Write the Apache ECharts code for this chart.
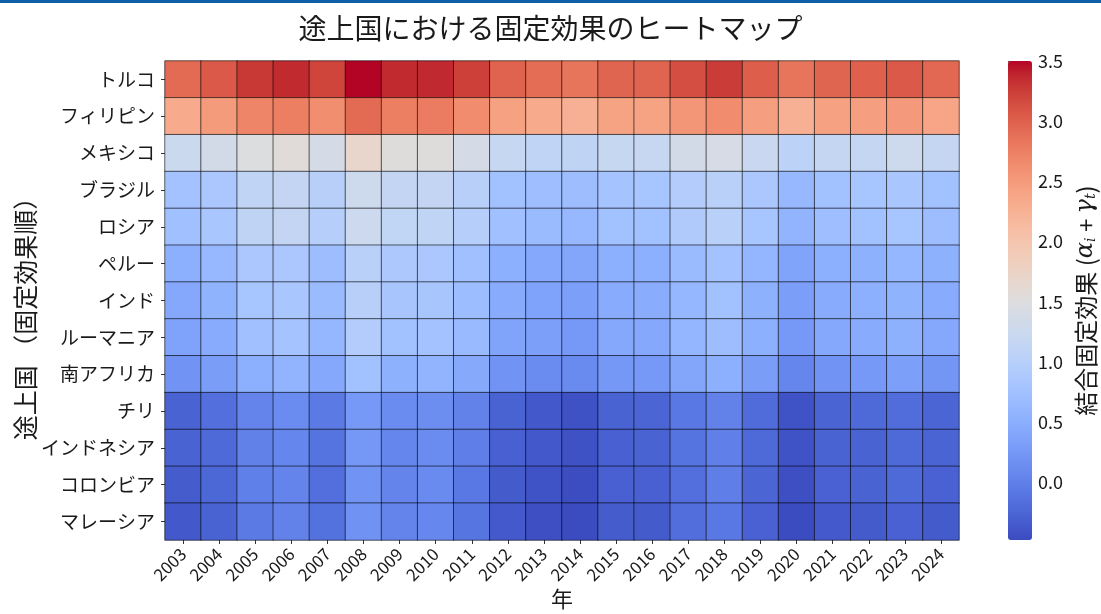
<!DOCTYPE html>
<html>
<head>
<meta charset="utf-8">
<script src="https://cdn.jsdelivr.net/npm/echarts@6/dist/echarts.min.js"></script>
<style>
  html, body { margin: 0; padding: 0; background: #ffffff; }
  #chart { width: 1101px; height: 614px; }
</style>
</head>
<body>
<div id="chart"></div>
<script>
// Years on the horizontal axis
const years = ['2003','2004','2005','2006','2007','2008','2009','2010','2011','2012','2013',
               '2014','2015','2016','2017','2018','2019','2020','2021','2022','2023','2024'];

// Countries, ordered by fixed effect (top to bottom)
const countries = ['トルコ','フィリピン','メキシコ','ブラジル','ロシア','ペルー','インド',
                   'ルーマニア','南アフリカ','チリ','インドネシア','コロンビア','マレーシア'];

// Combined fixed effect (alpha_i + gamma_t) per country and year
const turkey      = [2.92, 3.06, 3.28, 3.36, 3.20, 3.50, 3.36, 3.37, 3.24, 2.98, 2.90, 2.84, 2.96, 2.96, 3.14, 3.26, 3.02, 2.84, 2.96, 3.00, 3.06, 2.94];
const philippines = [2.33, 2.49, 2.70, 2.76, 2.62, 2.92, 2.76, 2.78, 2.64, 2.43, 2.33, 2.27, 2.41, 2.41, 2.54, 2.64, 2.45, 2.27, 2.43, 2.45, 2.51, 2.39];
const mexico      = [1.25, 1.35, 1.49, 1.55, 1.39, 1.69, 1.53, 1.53, 1.39, 1.19, 1.11, 1.10, 1.19, 1.20, 1.35, 1.40, 1.22, 1.07, 1.17, 1.18, 1.28, 1.18];
const brazil      = [0.77, 0.85, 1.11, 1.15, 1.01, 1.27, 1.15, 1.15, 1.00, 0.75, 0.71, 0.70, 0.79, 0.81, 0.95, 1.03, 0.85, 0.63, 0.75, 0.81, 0.83, 0.75];
const russia      = [0.73, 0.83, 1.10, 1.15, 0.98, 1.26, 1.13, 1.11, 0.98, 0.73, 0.67, 0.63, 0.75, 0.75, 0.91, 1.02, 0.81, 0.57, 0.71, 0.75, 0.81, 0.70];
const peru        = [0.50, 0.63, 0.85, 0.85, 0.70, 1.03, 0.87, 0.85, 0.73, 0.50, 0.42, 0.40, 0.52, 0.52, 0.67, 0.77, 0.59, 0.38, 0.51, 0.53, 0.61, 0.53];
const india       = [0.42, 0.55, 0.81, 0.83, 0.67, 1.00, 0.82, 0.82, 0.69, 0.46, 0.36, 0.32, 0.46, 0.47, 0.61, 0.75, 0.53, 0.31, 0.46, 0.50, 0.55, 0.46];
const romania     = [0.36, 0.46, 0.73, 0.79, 0.61, 0.95, 0.75, 0.76, 0.65, 0.38, 0.32, 0.25, 0.42, 0.43, 0.59, 0.70, 0.50, 0.26, 0.43, 0.46, 0.53, 0.42];
const southAfrica = [0.20, 0.30, 0.50, 0.57, 0.42, 0.75, 0.53, 0.57, 0.44, 0.20, 0.12, 0.10, 0.24, 0.25, 0.40, 0.51, 0.30, 0.06, 0.20, 0.25, 0.32, 0.22];
const chile       = [-0.28, -0.16, 0.04, 0.12, -0.06, 0.26, 0.12, 0.14, 0.02, -0.28, -0.37, -0.43, -0.28, -0.26, -0.08, 0.02, -0.20, -0.42, -0.27, -0.22, -0.18, -0.26];
const indonesia   = [-0.28, -0.22, 0.01, 0.06, -0.12, 0.24, 0.06, 0.12, -0.02, -0.30, -0.37, -0.43, -0.30, -0.28, -0.12, -0.01, -0.22, -0.42, -0.28, -0.28, -0.22, -0.27];
const colombia    = [-0.34, -0.24, 0.00, 0.04, -0.16, 0.20, 0.04, 0.10, -0.08, -0.35, -0.42, -0.47, -0.30, -0.30, -0.16, -0.02, -0.26, -0.45, -0.29, -0.28, -0.22, -0.29];
const malaysia    = [-0.37, -0.28, -0.06, 0.02, -0.14, 0.18, 0.04, 0.07, -0.11, -0.36, -0.45, -0.48, -0.34, -0.35, -0.17, -0.08, -0.29, -0.48, -0.36, -0.35, -0.29, -0.35];

const rows = [turkey, philippines, mexico, brazil, russia, peru, india,
              romania, southAfrica, chile, indonesia, colombia, malaysia];

// Colour bar tick values
const barTicks = [0.0, 0.5, 1.0, 1.5, 2.0, 2.5, 3.0, 3.5];

// Diverging cool-warm palette (blue -> grey -> red)
const coolwarm = [
  '#3b4cc0','#445acc','#4d68d7','#5775e1','#6282ea','#6c8ef1','#779af7','#82a5fb',
  '#8db0fe','#98b9ff','#a3c2ff','#aec9fd','#b8d0f9','#c2d5f4','#ccd9ee','#d5dbe6',
  '#dddddd','#e5d8d1','#ecd3c5','#f1ccb9','#f5c4ad','#f7bba0','#f7b194','#f7a687',
  '#f49a7b','#f18d6f','#ec7f63','#e57058','#de604d','#d55042','#cb3e38','#c0282f','#b40426'
];

const cells = [];
rows.forEach((row, yi) => row.forEach((v, xi) => cells.push([xi, yi, v])));
const allValues = rows.flat();
const vMin = Math.min(...allValues);
const vMax = Math.max(...allValues);

const FONT = '"Noto Sans CJK JP", "Noto Sans", sans-serif';
const TEXT = '#1a1a1a';

const chart = echarts.init(document.getElementById('chart'), null, { renderer: 'canvas' });

chart.setOption({
  backgroundColor: '#ffffff',
  animation: false,
  textStyle: { fontFamily: FONT, color: TEXT },
  title: {
    text: '途上国における固定効果のヒートマップ',
    left: 'center',
    top: 9,
    textStyle: { fontFamily: FONT, fontSize: 28, fontWeight: 'normal', color: TEXT }
  },
  graphic: [
    { type: 'rect', left: 0, top: 0, shape: { width: 1101, height: 3 }, style: { fill: '#0f5fa8' }, silent: true }
  ],
  grid: [
    { left: 165, top: 61, width: 794, height: 479, outerBoundsMode: 'none' },
    { left: 1008, top: 61, width: 24, height: 479, outerBoundsMode: 'none' }
  ],
  xAxis: [
    {
      type: 'category',
      data: years,
      gridIndex: 0,
      position: 'bottom',
      axisLine: { show: false },
      axisTick: { show: true, alignWithLabel: true, length: 4, lineStyle: { color: '#333', width: 1 } },
      axisLabel: { rotate: 45, margin: 11, fontSize: 17, color: TEXT, fontFamily: FONT, interval: 0 },
      splitLine: { show: false },
      name: '年',
      nameLocation: 'middle',
      nameGap: 48,
      nameMoveOverlap: false,
      nameTextStyle: { fontSize: 22, color: TEXT, fontFamily: FONT }
    },
    { type: 'value', gridIndex: 1, show: false, min: 0, max: 1 }
  ],
  yAxis: [
    {
      type: 'category',
      data: countries,
      gridIndex: 0,
      inverse: true,
      axisLine: { show: false },
      axisTick: { show: true, alignWithLabel: true, length: 4, lineStyle: { color: '#333', width: 1 } },
      axisLabel: { margin: 10, fontSize: 19, color: TEXT, fontFamily: FONT, interval: 0 },
      splitLine: { show: false },
      name: '途上国 （固定効果順）',
      nameLocation: 'middle',
      nameRotate: 90,
      nameGap: 127,
      nameMoveOverlap: false,
      nameTextStyle: { fontSize: 25, color: TEXT, fontFamily: FONT, padding: [0, 24, 0, 0] }
    },
    {
      type: 'value',
      gridIndex: 1,
      position: 'right',
      min: vMin,
      max: vMax,
      axisLine: { show: false },
      axisTick: { show: true, length: 4, customValues: barTicks, lineStyle: { color: '#333', width: 1 } },
      axisLabel: {
        show: true, margin: 6, fontSize: 18, color: TEXT, fontFamily: FONT,
        customValues: barTicks,
        formatter: v => Number(v).toFixed(1)
      },
      splitLine: { show: false },
      name: '結合固定効果 ({it|α}{sub|i} + {it|γ}{sub|t})',
      nameLocation: 'middle',
      nameRotate: 90,
      nameGap: 42,
      nameMoveOverlap: false,
      nameTextStyle: {
        fontSize: 24, color: TEXT, fontFamily: FONT,
        rich: {
          it: { fontSize: 24, fontStyle: 'italic', fontFamily: '"DejaVu Serif", serif', color: TEXT },
          sub: { fontSize: 14, fontStyle: 'italic', fontFamily: '"DejaVu Serif", serif', color: TEXT, verticalAlign: 'bottom', padding: [8, 0, 0, 0] }
        }
      }
    }
  ],
  visualMap: {
    type: 'continuous',
    seriesIndex: 0,
    min: vMin,
    max: vMax,
    calculable: false,
    hoverLink: false,
    orient: 'vertical',
    left: 1008,
    top: 61,
    itemWidth: 24,
    itemHeight: 479,
    padding: 0,
    showLabel: false,
    inRange: { color: coolwarm }
  },
  series: [
    {
      type: 'heatmap',
      xAxisIndex: 0,
      yAxisIndex: 0,
      data: cells,
      itemStyle: { borderColor: 'rgba(0,0,0,0.75)', borderWidth: 0.8 },
      emphasis: { disabled: true },
      label: { show: false }
    },
    {
      type: 'scatter',
      xAxisIndex: 1,
      yAxisIndex: 1,
      data: [],
      silent: true
    }
  ]
});
</script>
</body>
</html>
